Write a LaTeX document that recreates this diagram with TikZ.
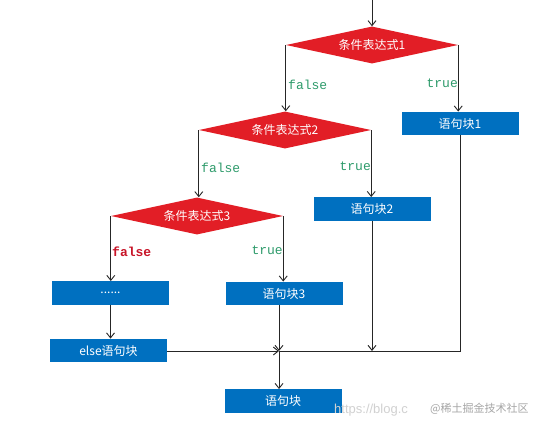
\documentclass[tikz,border=0pt]{standalone}
\usepackage{fontspec}
\setmainfont{Liberation Sans}
\newfontfamily\cjk{Noto Sans CJK SC}
\newfontfamily\monof{Liberation Mono}
\usetikzlibrary{shapes.geometric,arrows.meta}
\definecolor{dred}{RGB}{226,30,38}
\definecolor{bblue}{RGB}{0,112,192}
\definecolor{lgreen}{RGB}{46,155,107}
\definecolor{lred}{RGB}{200,20,40}
\tikzset{
  cond/.style={diamond,fill=dred,draw=none,minimum width=172pt,minimum height=37pt,aspect=4.6,inner sep=0pt,text=white,font=\cjk\fontsize{12}{12}\selectfont},
  blk/.style={rectangle,fill=bblue,draw=none,minimum width=117pt,minimum height=23.5pt,inner sep=0pt,text=white,font=\cjk\fontsize{12}{12}\selectfont},
  conn/.style={draw=black!85,line width=0.9pt},
  arr/.style={conn,-{Straight Barb[length=5pt,width=8pt]}},
  tlab/.style={font=\monof\fontsize{13}{13}\selectfont,text=lgreen,inner sep=0pt},
  flab/.style={font=\monof\bfseries\fontsize{13}{13}\selectfont,text=lred,inner sep=0pt},
}
\begin{document}
\begin{tikzpicture}[x=1pt,y=-1pt]
\useasboundingbox[fill=white] (0,0) rectangle (545,429);
% nodes
\node[cond] (c1) at (372,45) {条件表达式1};
\node[cond] (c2) at (285,130) {条件表达式2};
\node[cond] (c3) at (197,216) {条件表达式3};
\node[blk] (b1) at (460,123.5) {语句块1};
\node[blk] (b2) at (372,209) {语句块2};
\node[blk] (b3) at (284,293.5) {语句块3};
\node[blk] (bd) at (110.5,293) {......};
\node[blk] (be) at (108.5,350.5) {else语句块};
\node[blk] (bf) at (283,401) {语句块};
\coordinate (start) at (372,0);
\coordinate (m) at (279,351);
\coordinate (m2) at (372,351);
\coordinate (corner) at (460,351);
% connectors
\draw[arr] (start) -- (c1.north);
\draw[arr] (c1.west) -- (c1.west |- c2.north);
\draw[arr] (c1.east) -- (c1.east |- b1.north);
\draw[arr] (c2.west) -- (c2.west |- c3.north);
\draw[arr] (c2.east) -- (c2.east |- b2.north);
\draw[arr] (c3.west) -- (c3.west |- bd.north);
\draw[arr] (c3.east) -- (c3.east |- b3.north);
\draw[arr] (bd.south) -- (be.north -| bd.south);
\draw[arr] (be.east |- m) -- (m);
\draw[arr] (b3.south -| m) -- (m);
\draw[arr] (b2.south) -- (m2);
\draw[conn] (b1.south) -- (corner) -- (m);
\draw[arr] (m) -- (m |- bf.north);
% labels
\node[tlab,anchor=west] (l1f) at (288,85) {false};
\node[tlab,anchor=east] (l1t) at (458,83) {true};
\node[tlab,anchor=west] (l2f) at (201,168) {false};
\node[tlab,anchor=east] (l2t) at (371,166) {true};
\node[flab,anchor=west] (l3f) at (112,252) {false};
\node[tlab,anchor=east] (l3t) at (283,250) {true};
% watermark
\node[anchor=west,inner sep=0pt,text=black!18,font=\fontsize{13}{13}\selectfont] (wm1) at (334,410) {https://blog.c};
\node[anchor=west,inner sep=0pt,text=black!35,font=\cjk\fontsize{11}{11}\selectfont] (wm2) at (430,409) {@稀土掘金技术社区};
\end{tikzpicture}
\end{document}
